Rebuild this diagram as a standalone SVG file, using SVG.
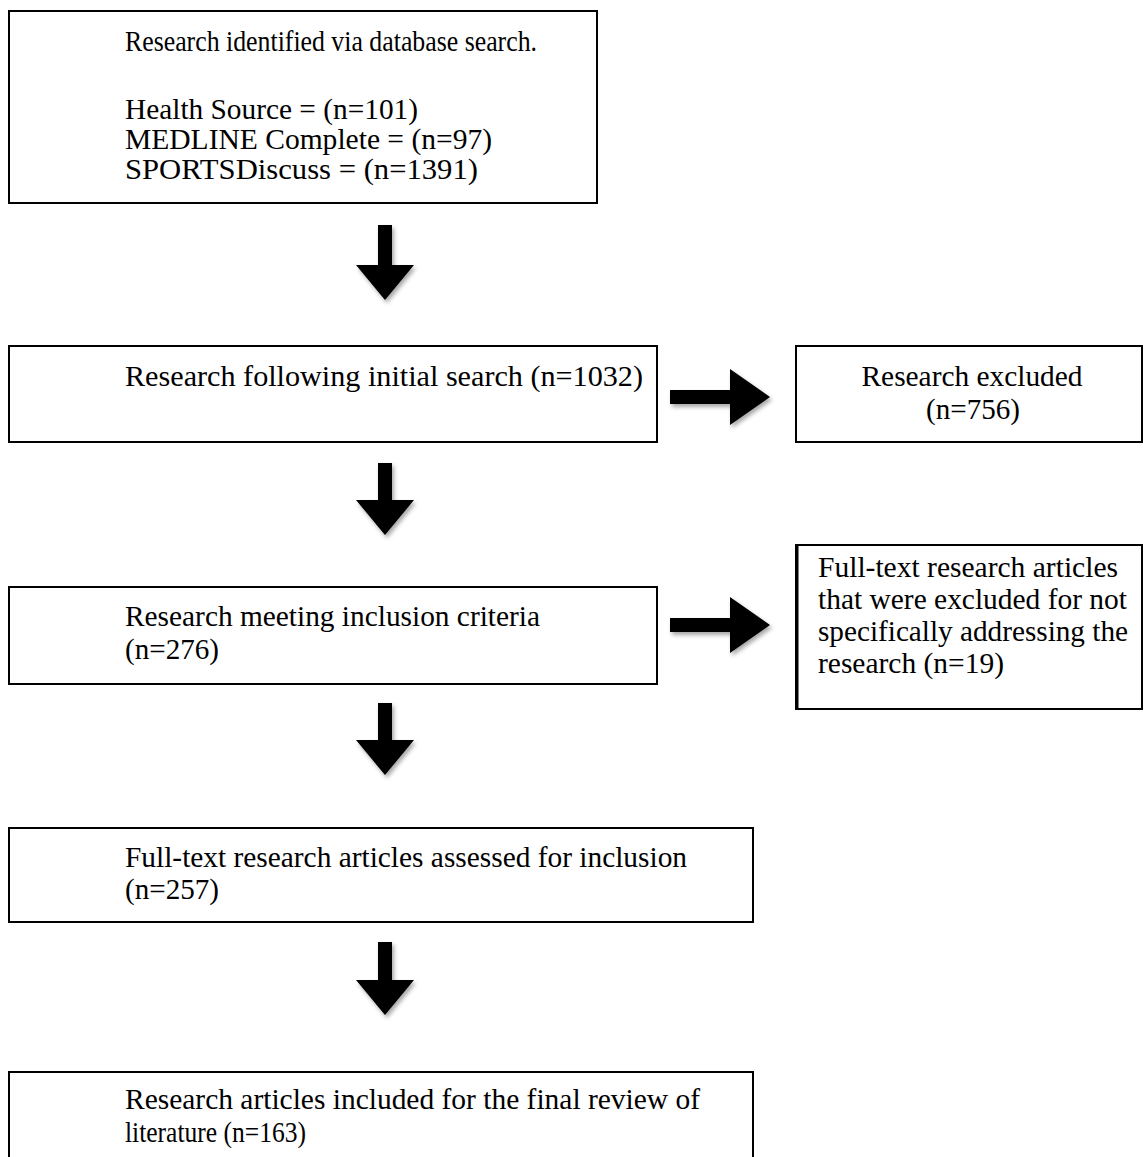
<svg xmlns="http://www.w3.org/2000/svg" width="1144" height="1157" viewBox="0 0 1144 1157">
<defs>
<style>
.box{fill:#fff;stroke:#000;stroke-width:2}
.t{font-family:"Liberation Serif","Times New Roman",serif;font-size:30px;fill:#000}
.s{font-size:28.5px}
.c{text-anchor:middle}
.arr{fill:#000;filter:url(#sh)}
</style>
<filter id="sh" x="-30%" y="-30%" width="160%" height="160%">
<feDropShadow dx="2" dy="3" stdDeviation="2" flood-color="#000" flood-opacity="0.35"/>
</filter>
</defs>
<rect width="1144" height="1157" fill="#fff"/>
<g id="n1">
<rect class="box" x="9" y="11" width="588" height="192"/>
<text class="t s" x="125" y="51" textLength="412" lengthAdjust="spacingAndGlyphs">Research identified via database search.</text>
<text class="t" x="125" y="119" textLength="293" lengthAdjust="spacingAndGlyphs">Health Source = (n=101)</text>
<text class="t" x="125" y="149" textLength="367" lengthAdjust="spacingAndGlyphs">MEDLINE Complete = (n=97)</text>
<text class="t" x="125" y="179" textLength="353" lengthAdjust="spacingAndGlyphs">SPORTSDiscuss = (n=1391)</text>
</g>
<g id="n2">
<rect class="box" x="9" y="346" width="648" height="96"/>
<text class="t" x="125" y="386" textLength="518" lengthAdjust="spacingAndGlyphs">Research following initial search (n=1032)</text>
</g>
<g id="n3">
<rect class="box" x="796" y="346" width="346" height="96"/>
<text class="t c" x="972" y="386" textLength="221" lengthAdjust="spacingAndGlyphs">Research excluded</text>
<text class="t c" x="973" y="419" textLength="94" lengthAdjust="spacingAndGlyphs">(n=756)</text>
</g>
<g id="n4">
<rect class="box" x="9" y="587" width="648" height="97"/>
<text class="t" x="125" y="626" textLength="415" lengthAdjust="spacingAndGlyphs">Research meeting inclusion criteria</text>
<text class="t" x="125" y="659" textLength="94" lengthAdjust="spacingAndGlyphs">(n=276)</text>
</g>
<g id="n5">
<rect class="box" x="796" y="545" width="346" height="164"/>
<line x1="797" y1="545" x2="797" y2="709" stroke="#000" stroke-width="3"/>
<text class="t" x="818" y="577" textLength="300" lengthAdjust="spacingAndGlyphs">Full-text research articles</text>
<text class="t" x="818" y="609" textLength="309" lengthAdjust="spacingAndGlyphs">that were excluded for not</text>
<text class="t" x="818" y="641" textLength="310" lengthAdjust="spacingAndGlyphs">specifically addressing the</text>
<text class="t" x="818" y="673" textLength="186" lengthAdjust="spacingAndGlyphs">research (n=19)</text>
</g>
<g id="n6">
<rect class="box" x="9" y="828" width="744" height="94"/>
<text class="t" x="125" y="867" textLength="562" lengthAdjust="spacingAndGlyphs">Full-text research articles assessed for inclusion</text>
<text class="t" x="125" y="899" textLength="94" lengthAdjust="spacingAndGlyphs">(n=257)</text>
</g>
<g id="n7">
<rect class="box" x="9" y="1072" width="744" height="90"/>
<text class="t" x="125" y="1109" textLength="575" lengthAdjust="spacingAndGlyphs">Research articles included for the final review of</text>
<text class="t s" x="125" y="1142" textLength="181" lengthAdjust="spacingAndGlyphs">literature (n=163)</text>
</g>
<g id="connectors">
<path class="arr" d="M378 225H392V265H414L385 300L356 265H378Z"/>
<path class="arr" d="M378 463H392V500H414L385 535L356 500H378Z"/>
<path class="arr" d="M378 703H392V740H414L385 775L356 740H378Z"/>
<path class="arr" d="M378 942H392V980H414L385 1015L356 980H378Z"/>
<path class="arr" d="M670 390V404H730V425L770 397L730 369V390Z"/>
<path class="arr" d="M670 618V632H730V653L770 625L730 597V618Z"/>
</g>
</svg>
